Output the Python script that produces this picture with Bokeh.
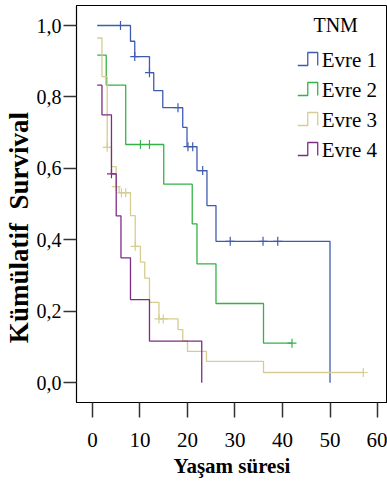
from bokeh.plotting import figure
from bokeh.models import Range1d, FixedTicker
from bokeh.core.properties import value
from bokeh.embed import file_html
from bokeh.resources import INLINE

# ---- data ----
x_ticks = [0, 10, 20, 30, 40, 50, 60]
y_ticks = [0.0, 0.2, 0.4, 0.6, 0.8, 1.0]
y_tick_labels = ["0,0", "0,2", "0,4", "0,6", "0,8", "1,0"]

series_names = ["Evre 1", "Evre 2", "Evre 3", "Evre 4"]
series_colors = ["#3F5BB0", "#33B347", "#D5CD92", "#7E2D85"]

evre1_t = [1.0, 8.0, 8.9, 12.0, 12.9, 14.8, 19.0, 19.9, 22.0, 24.1, 26.0, 50.0]
evre1_s = [1.0, 0.956, 0.913, 0.868, 0.818, 0.770, 0.715, 0.661, 0.594, 0.496, 0.396, 0.0]
evre1_ct = [5.9, 8.9, 12.0, 18.0, 20.1, 21.1, 23.2, 29.0, 35.9, 39.0]
evre1_cs = [1.0, 0.913, 0.868, 0.770, 0.661, 0.661, 0.594, 0.396, 0.396, 0.396]

evre2_t = [1.0, 2.9, 7.0, 15.0, 21.0, 22.0, 26.0, 36.0, 42.0]
evre2_s = [0.917, 0.833, 0.667, 0.556, 0.445, 0.333, 0.222, 0.111, 0.111]
evre2_ct = [10.1, 12.0, 42.0]
evre2_cs = [0.667, 0.667, 0.111]

evre3_t = [1.0, 2.0, 3.1, 4.0, 5.0, 5.6, 8.0, 9.0, 10.1, 11.0, 12.0, 14.0,
           18.0, 19.0, 20.0, 24.0, 36.0, 57.0]
evre3_s = [0.965, 0.857, 0.659, 0.605, 0.549, 0.532, 0.468, 0.382, 0.338, 0.293,
           0.225, 0.179, 0.149, 0.118, 0.088, 0.060, 0.029, 0.029]
evre3_ct = [3.1, 5.0, 6.1, 7.0, 9.0, 14.0, 14.9, 57.0]
evre3_cs = [0.659, 0.549, 0.532, 0.532, 0.382, 0.179, 0.179, 0.029]

evre4_t = [1.0, 2.0, 4.0, 5.0, 6.0, 8.0, 12.0, 23.0]
evre4_s = [0.833, 0.750, 0.585, 0.467, 0.350, 0.233, 0.117, 0.0]
evre4_ct = [4.0]
evre4_cs = [0.585]

curves = [
    (evre1_t, evre1_s, evre1_ct, evre1_cs),
    (evre2_t, evre2_s, evre2_ct, evre2_cs),
    (evre3_t, evre3_s, evre3_ct, evre3_cs),
    (evre4_t, evre4_s, evre4_ct, evre4_cs),
]

FONT = "Liberation Serif"

p = figure(width=387, height=483, output_backend="svg", toolbar_location=None,
           x_range=Range1d(-3.36, 62.1), y_range=Range1d(-0.055, 1.056),
           min_border_left=75, min_border_right=0, min_border_top=5,
           min_border_bottom=81)
p.background_fill_color = "white"
p.border_fill_color = "white"
p.outline_line_color = "black"
p.outline_line_width = 1
p.xgrid.visible = False
p.ygrid.visible = False

for (t, s, ct, cs), col in zip(curves, series_colors):
    p.step(t, s, mode="after", line_color=col, line_width=1.3)
    p.scatter(ct, cs, marker="cross", size=9, line_color=col, line_width=1.2)

# axes
for ax in (p.xaxis, p.yaxis):
    ax.axis_line_color = "black"
    ax.axis_line_width = 1.2
    ax.major_tick_line_color = "#333333"
    ax.major_tick_line_width = 1.5
    ax.major_tick_in = 0
    ax.minor_tick_line_color = None
    ax.major_label_text_font = FONT
    ax.major_label_text_color = "black"
    ax.axis_label_text_font = FONT
    ax.axis_label_text_font_style = "bold"
    ax.axis_label_text_color = "black"

p.xaxis.ticker = FixedTicker(ticks=x_ticks)
p.xaxis.major_tick_out = 15
p.xaxis.major_label_text_font_size = "21px"
p.xaxis.major_label_standoff = 15
p.xaxis.axis_label = "Yaşam süresi"
p.xaxis.axis_label_text_font_size = "21px"
p.xaxis.axis_label_standoff = 4

p.yaxis.ticker = FixedTicker(ticks=y_ticks)
p.yaxis.major_label_overrides = {t: l for t, l in zip(y_ticks, y_tick_labels)}
p.yaxis.major_tick_out = 13
p.yaxis.major_label_text_font_size = "20px"
p.yaxis.major_label_standoff = 2
# trailing no-break spaces move the centred title down, as in the reference
p.yaxis.axis_label = "Kümülatif\u00a0 Survival" + "\u00a0" * 7
p.yaxis.axis_label_text_font_size = "27px"
p.yaxis.axis_label_standoff = 0

# ---- legend drawn in pixel space of the frame (SPSS-style step symbols) ----
p.extra_x_ranges["px"] = Range1d(75, 387)
p.extra_y_ranges["px"] = Range1d(402, 5)
leg_title_xy = (335, 24)
leg_sym_x = (297, 307, 317)
leg_row_y0 = 59
leg_row_gap = 30
p.text(x=[leg_title_xy[0]], y=[leg_title_xy[1]], text=["TNM"],
       x_range_name="px", y_range_name="px",
       text_font=value(FONT), text_font_size="20px", text_color="black",
       text_align="center", text_baseline="middle")
for i, (name, col) in enumerate(zip(series_names, series_colors)):
    yc = leg_row_y0 + i * leg_row_gap
    x0, x1, x2 = leg_sym_x
    p.line(x=[x0, x1, x1, x2, x2], y=[yc + 6, yc + 6, yc - 7, yc - 7, yc + 6],
           x_range_name="px", y_range_name="px", line_color=col, line_width=1.3)
    p.text(x=[x2 + 4], y=[yc], text=[name], x_range_name="px", y_range_name="px",
           text_font=value(FONT), text_font_size="21px", text_color="black",
           text_align="left", text_baseline="middle")

open("out.html", "w").write(file_html(p, INLINE))
